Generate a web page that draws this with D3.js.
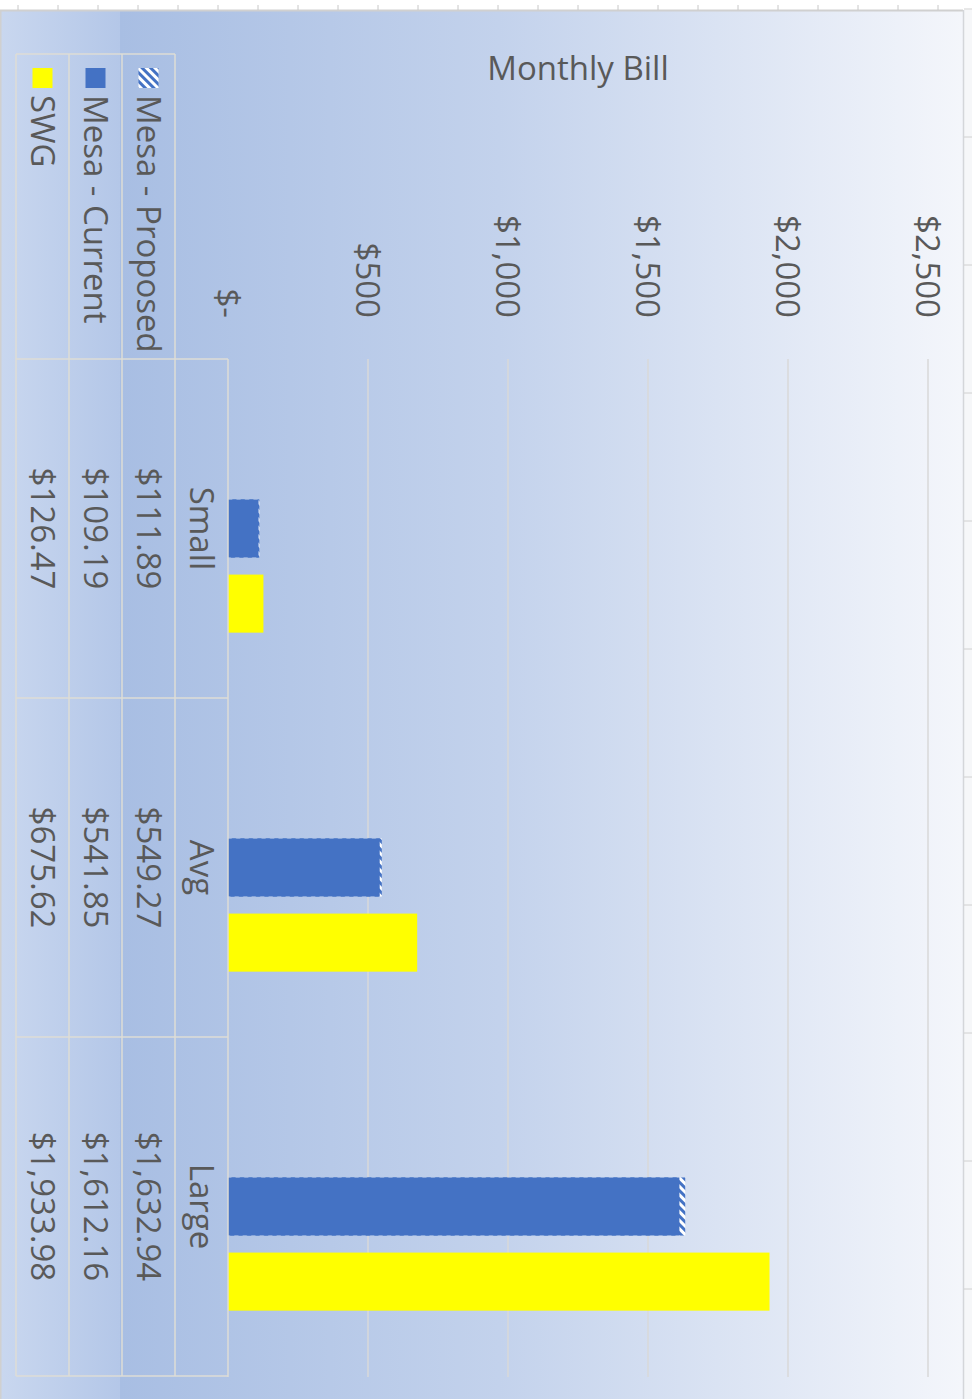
<!DOCTYPE html>
<html>
<head>
<meta charset="utf-8">
<script src="https://cdn.jsdelivr.net/npm/d3@7"></script>
<style>
  html, body { margin: 0; padding: 0; background: #fff; }
  svg { display: block; }
  text { font-family: "Open Sans", "Noto Sans", sans-serif; fill: #595959; }
</style>
</head>
<body>
<div id="chart"></div>
<script>
// chart values
var categories = ["Small", "Avg", "Large"];
var seriesNames = ["Mesa - Proposed", "Mesa - Current", "SWG"];
var mesaProposed = [111.89, 549.27, 1632.94];
var mesaCurrent = [109.19, 541.85, 1612.16];
var swg = [126.47, 675.62, 1933.98];
var valueTicks = [0, 500, 1000, 1500, 2000, 2500];
var tickLabels = ["$-", "$500", "$1,000", "$1,500", "$2,000", "$2,500"];
var title = "Monthly Bill";

(function () {
  'use strict';

  var W = 972, H = 1399;
  var BLUE = "#4472c4", YELLOW = "#ffff00", GRID = "#d9d9d9", TABLE = "#dedcd6";
  var FS = 33;

  var svg = d3.select("#chart").append("svg")
    .attr("width", W)
    .attr("height", H);

  var defs = svg.append("defs");

  var g1 = defs.append("linearGradient").attr("id", "bgMain");
  g1.append("stop").attr("offset", "0%").attr("stop-color", "#a8bee3");
  g1.append("stop").attr("offset", "45%").attr("stop-color", "#c3d2ec");
  g1.append("stop").attr("offset", "100%").attr("stop-color", "#f4f6fb");

  var g2 = defs.append("linearGradient").attr("id", "bgLeft");
  g2.append("stop").attr("offset", "0%").attr("stop-color", "#c9d7ef");
  g2.append("stop").attr("offset", "100%").attr("stop-color", "#b4c7e8");

  var hatch = defs.append("pattern")
    .attr("id", "hatch")
    .attr("patternUnits", "userSpaceOnUse")
    .attr("width", 6).attr("height", 6)
    .attr("patternTransform", "rotate(-45)");
  hatch.append("rect").attr("width", 6).attr("height", 6).attr("fill", BLUE);
  hatch.append("rect").attr("width", 3).attr("height", 6).attr("fill", "#ffffff");

  // page frame
  svg.append("rect").attr("width", W).attr("height", H).attr("fill", "#ffffff");
  svg.append("rect").attr("x", 963).attr("y", 10).attr("width", 9).attr("height", H - 10).attr("fill", "#f6f7f9");
  svg.append("rect").attr("x", 120).attr("y", 10).attr("width", 843).attr("height", H - 10).attr("fill", "url(#bgMain)");
  svg.append("rect").attr("x", 0).attr("y", 10).attr("width", 120).attr("height", H - 10).attr("fill", "url(#bgLeft)");
  svg.append("line").attr("x1", 0).attr("x2", 963).attr("y1", 10.5).attr("y2", 10.5)
    .attr("stroke", "#d0d0d0").attr("stroke-width", 2);
  svg.append("line").attr("x1", 963.5).attr("x2", 963.5).attr("y1", 10).attr("y2", H)
    .attr("stroke", "#d4d6da").attr("stroke-width", 1.5);
  svg.append("line").attr("x1", 0.5).attr("x2", 0.5).attr("y1", 10).attr("y2", H)
    .attr("stroke", "#d0d0d0").attr("stroke-width", 2);

  svg.append("g").selectAll("line")
    .data(d3.range(18, 963, 40))
    .enter().append("line")
    .attr("x1", function (d) { return d; }).attr("x2", function (d) { return d; })
    .attr("y1", 5).attr("y2", 10)
    .attr("stroke", "#c8c8c8");
  svg.append("g").selectAll("line")
    .data(d3.range(9, H, 128))
    .enter().append("line")
    .attr("x1", 964).attr("x2", 972)
    .attr("y1", function (d) { return d; }).attr("y2", function (d) { return d; })
    .attr("stroke", "#d0d0d0");

  // scales (chart is turned a quarter clockwise: values run to the right)
  var x = d3.scaleLinear().domain([0, 2500]).range([228, 928]);
  var y = d3.scaleBand().domain(categories).range([359, 1376]);
  // three slots per group, first one stays empty
  var slot = d3.scaleBand().domain(["none", "Mesa", "SWG"])
    .range([0, y.bandwidth()])
    .paddingInner(0.227)
    .paddingOuter(0.87);
  // table rows, from the axis outwards
  var row = d3.scaleBand().domain(["header"].concat(seriesNames)).range([228, 16]);

  // gridlines
  svg.append("g").selectAll("line")
    .data(valueTicks.slice(1))
    .enter().append("line")
    .attr("x1", function (d) { return x(d); }).attr("x2", function (d) { return x(d); })
    .attr("y1", 359).attr("y2", 1377)
    .attr("stroke", GRID).attr("stroke-width", 1.5);

  // tick labels
  svg.append("g").selectAll("text")
    .data(valueTicks)
    .enter().append("text")
    .attr("x", function (d) { return x(d); })
    .attr("y", 318)
    .attr("dy", "0.35em")
    .attr("text-anchor", "end")
    .attr("font-size", FS)
    .attr("transform", function (d) { return "rotate(90," + x(d) + ",318)"; })
    .text(function (d, i) { return tickLabels[i]; });

  // bars
  var bars = categories.map(function (c, i) {
    return { cat: c, proposed: mesaProposed[i], current: mesaCurrent[i], swg: swg[i] };
  });
  var gb = svg.append("g");
  gb.selectAll(".prop").data(bars).enter().append("rect")
    .attr("x", x(0))
    .attr("y", function (d) { return y(d.cat) + slot("Mesa"); })
    .attr("width", function (d) { return x(d.proposed) - x(0); })
    .attr("height", slot.bandwidth())
    .attr("fill", "url(#hatch)");
  gb.selectAll(".cur").data(bars).enter().append("rect")
    .attr("x", x(0))
    .attr("y", function (d) { return y(d.cat) + slot("Mesa"); })
    .attr("width", function (d) { return x(d.current) - x(0); })
    .attr("height", slot.bandwidth())
    .attr("fill", BLUE);
  gb.selectAll(".swg").data(bars).enter().append("rect")
    .attr("x", x(0))
    .attr("y", function (d) { return y(d.cat) + slot("SWG"); })
    .attr("width", function (d) { return x(d.swg) - x(0); })
    .attr("height", slot.bandwidth())
    .attr("fill", YELLOW);

  // data table
  var fmt = d3.format("$,.2f");
  var tableValues = [mesaProposed, mesaCurrent, swg];
  var gt = svg.append("g")
    .attr("stroke", TABLE).attr("stroke-width", 1.5);
  var edges = [16, row("Mesa - Current"), row("Mesa - Proposed"), row("header")];
  edges.forEach(function (ex) {
    gt.append("line").attr("x1", ex).attr("x2", ex).attr("y1", 54).attr("y2", 1376);
  });
  gt.append("line").attr("x1", x(0)).attr("x2", x(0)).attr("y1", 359).attr("y2", 1377);
  gt.append("line").attr("x1", 16).attr("x2", row("header")).attr("y1", 54).attr("y2", 54);
  categories.concat(["end"]).forEach(function (c) {
    var yy = c === "end" ? y.range()[1] : y(c);
    gt.append("line").attr("x1", 16).attr("x2", x(0)).attr("y1", yy).attr("y2", yy);
  });

  var cx = function (r) { return row(r) + row.bandwidth() / 2; };
  var cy = function (c) { return y(c) + y.bandwidth() / 2; };

  svg.append("g").selectAll("text")
    .data(categories)
    .enter().append("text")
    .attr("x", cx("header")).attr("y", function (d) { return cy(d); })
    .attr("dy", "0.35em")
    .attr("text-anchor", "middle")
    .attr("font-size", FS)
    .attr("transform", function (d) { return "rotate(90," + cx("header") + "," + cy(d) + ")"; })
    .text(function (d) { return d; });

  seriesNames.forEach(function (s, si) {
    svg.append("g").selectAll("text")
      .data(categories)
      .enter().append("text")
      .attr("x", cx(s)).attr("y", function (d) { return cy(d); })
      .attr("dy", "0.35em")
      .attr("text-anchor", "middle")
      .attr("font-size", FS)
      .attr("transform", function (d) { return "rotate(90," + cx(s) + "," + cy(d) + ")"; })
      .text(function (d, i) { return fmt(tableValues[si][i]); });
  });

  // legend keys inside the table
  var keyFill = { "Mesa - Proposed": "url(#hatch)", "Mesa - Current": BLUE, "SWG": YELLOW };
  var gl = svg.append("g");
  gl.selectAll("rect").data(seriesNames).enter().append("rect")
    .attr("x", function (d) { return cx(d) - 10; })
    .attr("y", 68)
    .attr("width", 20).attr("height", 20)
    .attr("fill", function (d) { return keyFill[d]; });
  gl.selectAll("text").data(seriesNames).enter().append("text")
    .attr("x", function (d) { return cx(d); })
    .attr("y", 95)
    .attr("dy", "0.35em")
    .attr("font-size", FS)
    .attr("transform", function (d) { return "rotate(90," + cx(d) + ",95)"; })
    .text(function (d) { return d; });

  // title stays upright
  svg.append("text")
    .attr("x", 578).attr("y", 80)
    .attr("text-anchor", "middle")
    .attr("font-size", 33)
    .text(title);
})();
</script>
</body>
</html>
